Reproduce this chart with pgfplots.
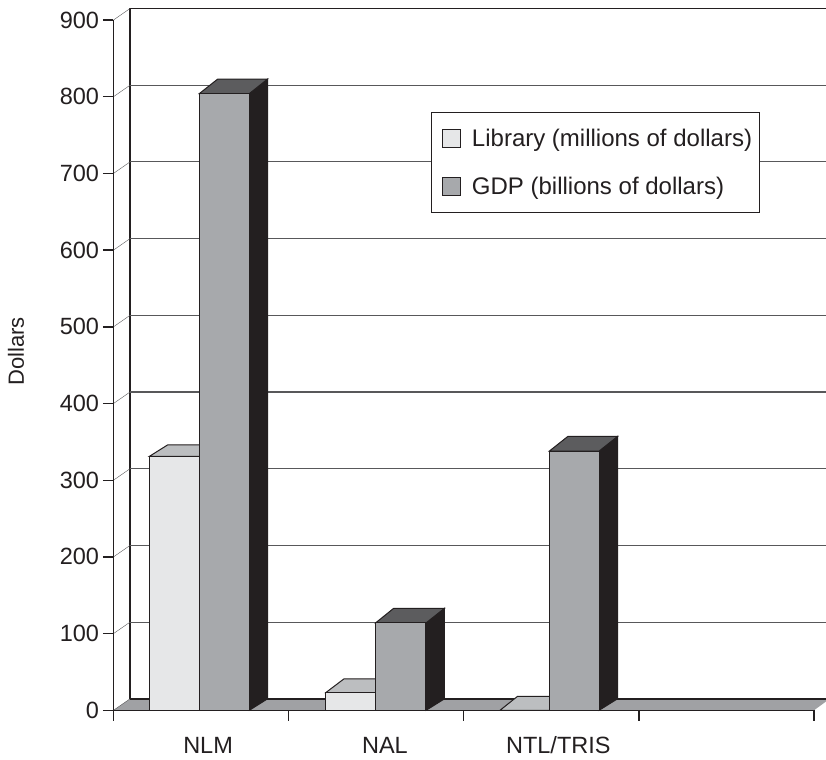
\documentclass[border=0pt]{standalone}
\usepackage{fontspec}
\setmainfont{Liberation Sans}
\usepackage{pgfplots}
\pgfplotsset{compat=1.18}
\definecolor{ink}{HTML}{231F20}
\definecolor{libf}{HTML}{E6E7E8}
\definecolor{gdpf}{HTML}{A7A9AC}
\definecolor{libt}{HTML}{BCBEC0}
\definecolor{gdpt}{HTML}{5C5C5E}
\definecolor{flr}{HTML}{A0A1A4}
\definecolor{gridc}{HTML}{58585A}
\pgfplotsset{
  face/.style={forget plot,draw=ink,line width=1bp,line join=miter,mark=none},
  lg/.style={legend image code/.code={\path[draw=none,fill=none] (0bp,0bp) -- (5.5bp,0bp); \draw[##1,line width=1bp] (5.5bp,-9bp) rectangle (23.5bp,9bp);}},
}
\begin{document}
\begin{tikzpicture}
\useasboundingbox (-113.5bp,-49.7bp) rectangle (712.5bp,710.3bp);
\begin{axis}[
  at={(0,0)},anchor=south west,
  scale only axis,width=700.5bp,height=690.3bp,
  xmin=0,xmax=4,ymin=0,ymax=900,clip=false,
  axis lines=left,axis line style={-,draw=ink,line width=1.2bp},
  tick style={draw=ink,line width=1.4bp},
  tick align=outside,major tick length=10.5bp,
  xtick={0,1,2,3,4},xticklabels={},
  extra x ticks={0.54,1.55,2.54},
  extra x tick labels={NLM,NAL,NTL/TRIS},
  extra x tick style={major tick length=0pt,tick style={draw=none}},
  ytick={0,100,...,900},
  /pgf/number format/assume math mode=true,
  tick label style={font=\fontsize{23.5bp}{25bp}\selectfont,text=ink},
  yticklabel style={xshift=-0.5bp},
  xticklabel style={anchor=base,yshift=-43bp},
  ylabel={Dollars},
  every axis y label/.style={at={(axis description cs:-0.139,0.52)},rotate=90,anchor=center,font=\fontsize{22bp}{24bp}\selectfont,text=ink},
  axis on top,
  legend style={at={(axis cs:1.813,779.6)},anchor=north west,draw=ink,line width=1bp,fill=white,
    font=\fontsize{24bp}{26bp}\selectfont,text=ink,inner xsep=5bp,inner ysep=14.5bp,row sep=25bp,
    /tikz/every odd column/.append style={column sep=9.5bp}},
  legend cell align=left,
]
% floor
\addplot[forget plot,fill=flr,draw=none] coordinates {(0,0) (0.0946,15) (4.09,15) (4,0)} --cycle;
% back wall and gridlines
\addplot[forget plot,draw=ink,line width=1.2bp] coordinates {(0.0946,15) (0.0946,915) (4.09,915)};
\addplot[forget plot,draw=ink,line width=1.6bp] coordinates {(0.0946,15) (4.09,15)};
\pgfplotsinvokeforeach{100,200,...,800}{
  \addplot[forget plot,draw=gridc,line width=1.1bp] coordinates {(0.0946,#1+15) (4.09,#1+15)};
}
\pgfplotsinvokeforeach{0,100,...,900}{
  \addplot[forget plot,draw=gridc,line width=0.4bp] coordinates {(0,#1) (0.0946,#1+15)};
}
% Library tops
\addplot[face,fill=libt] coordinates {(0.2045,331) (0.309,346) (0.60,346) (0.49,331)} --cycle;
\addplot[face,fill=libt] coordinates {(1.212,23) (1.316,41) (1.60,41) (1.497,23)} --cycle;
\addplot[face,fill=libt] coordinates {(2.207,0) (2.306,18) (2.60,18) (2.489,0)} --cycle;
% Library fronts
\addplot[ybar,bar shift=0pt,bar width=50bp,lg,fill=libf,draw=ink,line width=1bp]
  coordinates {(0.347,331) (1.354,23) (2.348,0)};
\addlegendentry{Library (millions of dollars)}
% GDP sides
\addplot[face,fill=ink] coordinates {(0.7755,0) (0.88,15) (0.88,823) (0.7755,804)} --cycle;
\addplot[face,fill=ink] coordinates {(1.785,0) (1.89,15) (1.89,133) (1.785,114)} --cycle;
\addplot[face,fill=ink] coordinates {(2.773,0) (2.878,15) (2.878,357) (2.773,338)} --cycle;
% GDP tops
\addplot[face,fill=gdpt] coordinates {(0.49,804) (0.595,823) (0.88,823) (0.7755,804)} --cycle;
\addplot[face,fill=gdpt] coordinates {(1.497,114) (1.60,133) (1.89,133) (1.785,114)} --cycle;
\addplot[face,fill=gdpt] coordinates {(2.489,338) (2.594,357) (2.878,357) (2.773,338)} --cycle;
% GDP fronts
\addplot[ybar,bar shift=0pt,bar width=50bp,lg,fill=gdpf,draw=ink,line width=1bp]
  coordinates {(0.633,804) (1.641,114) (2.631,338)};
\addlegendentry{GDP (billions of dollars)}
\end{axis}
\end{tikzpicture}
\end{document}
